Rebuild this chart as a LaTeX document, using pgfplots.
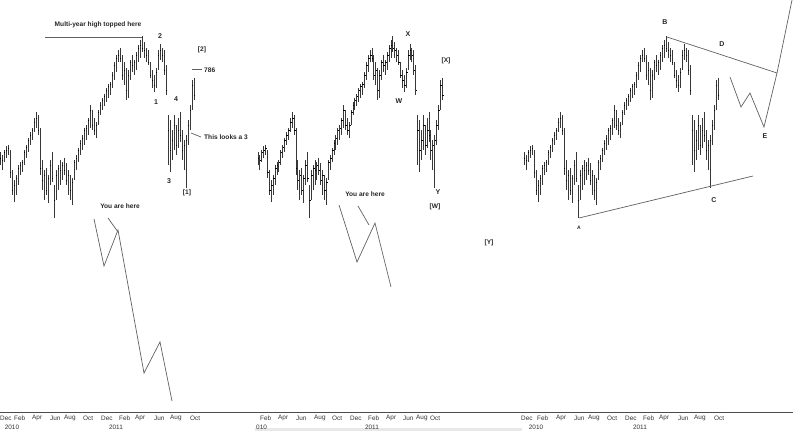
\documentclass[border=0pt]{standalone}
\usepackage{pgfplots}
\pgfplotsset{compat=1.18}
\usepackage{pgfplotstable}
\usepackage{fontspec}
\setmainfont{Liberation Sans}

\pgfplotstableread{
x h l c
0 152 165 158
2 155 170 160
4 150 162 152
6 146 158 150
8 145 155 148
10 150 178 172
12 170 195 190
14 180 202 185
16 175 195 178
18 165 185 168
20 162 175 165
22 160 172 162
24 150 165 152
26 145 158 147
28 138 152 140
30 132 145 135
32 128 140 130
34 118 132 122
36 112 128 118
38 115 135 130
40 128 175 168
42 160 190 180
44 170 200 175
46 168 195 190
48 175 203 178
50 160 185 165
52 152 182 178
54 185 218 200
56 170 200 175
58 165 190 168
60 160 185 170
62 162 180 165
64 158 175 170
66 163 185 180
68 170 195 175
70 175 200 190
72 178 205 182
74 160 180 162
76 155 170 158
78 148 162 150
80 140 155 143
82 135 150 138
84 128 145 130
86 125 140 128
88 118 135 120
90 105 128 110
92 110 130 125
94 118 135 130
96 122 138 125
98 110 125 112
100 102 115 105
102 98 110 100
104 94 106 96
106 88 102 90
108 84 98 86
110 82 95 84
112 72 88 75
114 62 80 65
116 55 72 58
118 50 62 55
120 48 62 58
122 55 80 75
124 62 85 70
126 68 100 90
128 70 98 75
130 60 80 62
132 55 72 65
134 60 75 62
136 52 70 55
138 45 62 48
140 40 58 45
142 36 52 48
144 42 58 50
146 48 62 55
148 50 65 62
150 62 78 75
152 70 88 80
154 75 92 85
156 68 88 72
158 50 70 55
160 44 60 50
162 48 62 55
164 50 75 70
166 65 95 90
168 115 165 130
170 120 172 150
172 130 160 140
174 115 150 125
176 125 155 145
178 118 148 130
180 112 142 135
182 130 160 150
184 140 170 145
186 135 188 140
188 120 145 125
190 105 130 110
192 80 110 85
194 78 100 95
}\bars

\tikzset{
  ann/.style={font=\fontsize{6.6}{7}\selectfont\bfseries, text=black!85, inner sep=0pt},
  lab/.style={font=\fontsize{7}{8}\selectfont\bfseries, text=black!85, inner sep=0pt},
  tl/.style={font=\fontsize{6.4}{7}\selectfont, text=black!80, inner sep=0pt, anchor=west},
  yl/.style={font=\fontsize{6.4}{7}\selectfont, text=black!80, inner sep=0pt},
}
\pgfplotsset{
  ohlc/.style={only marks, mark size=0pt, forget plot,
    error bars/.cd, y dir=both, y explicit, error mark=none,
    error bar style={line width=1.0pt, draw=black!78}},
  ticks/.style={only marks, mark=-, mark size=0.8pt, black, forget plot,
    mark options={line width=0.6pt, draw=black}},
  sk/.style={gray!75!black, line width=0.7pt, mark=none, forget plot},
}

\begin{document}
\begin{tikzpicture}
\begin{axis}[x=1pt, y=1pt, xmin=0, xmax=800, ymin=0, ymax=434,
  y dir=reverse, hide axis, clip=false]

% ---- panel 1
\addplot[ohlc] table[x=x, y expr=(\thisrow{h}+\thisrow{l})/2,
  y error plus expr=(\thisrow{l}-\thisrow{h})/2,
  y error minus expr=(\thisrow{l}-\thisrow{h})/2] {\bars};
\addplot[ticks] table[x expr=\thisrow{x}+0.6, y=c] {\bars};

% ---- panel 2
\addplot[ohlc] table[x expr=258+0.95*\thisrow{x}, y expr=(\thisrow{h}+\thisrow{l})/2,
  y error plus expr=(\thisrow{l}-\thisrow{h})/2,
  y error minus expr=(\thisrow{l}-\thisrow{h})/2] {\bars};
\addplot[ticks] table[x expr=258+0.95*\thisrow{x}+0.6, y=c] {\bars};

% ---- panel 3
\addplot[ohlc] table[x expr=\thisrow{x}+524, y expr=(\thisrow{h}+\thisrow{l})/2,
  y error plus expr=(\thisrow{l}-\thisrow{h})/2,
  y error minus expr=(\thisrow{l}-\thisrow{h})/2] {\bars};
\addplot[ticks] table[x expr=\thisrow{x}+524.6, y=c] {\bars};

% ---- sketches panel 1
\addplot[sk] coordinates {(45,37) (142,37)};
\addplot[sk] coordinates {(192,69) (202,69)};
\addplot[sk] coordinates {(191,133) (201,137)};
\addplot[sk] coordinates {(108,218) (118,232)};
\addplot[sk] coordinates {(94,219) (104,266) (118,230) (144,373) (160,342) (172,401)};

% ---- sketches panel 2
\addplot[sk] coordinates {(358,206) (369,225)};
\addplot[sk] coordinates {(339,205) (357,262) (375,223) (391,287)};

% ---- sketches panel 3
\addplot[sk] coordinates {(667,37) (777,73)};
\addplot[sk] coordinates {(579,218) (753,176)};
\addplot[sk] coordinates {(730,77) (741,107) (750,93) (764,127) (777,73) (792,0)};

% ---- bottom axis
\addplot[gray!60!black, line width=0.8pt, mark=none, forget plot] coordinates {(0,412) (793,412)};
\addplot[gray!18, line width=3pt, mark=none, forget plot] coordinates {(255,429.5) (522,429.5)};

% text panel 1
\node[ann] at (98,25) {Multi-year high topped here};
\node[lab] at (160,36) {2};
\node[ann] at (202,50) {[2]};
\node[ann, anchor=west] at (204,70) {786};
\node[lab] at (156,102) {1};
\node[lab] at (176,99) {4};
\node[ann, anchor=west] at (204,137) {This looks a 3};
\node[lab] at (169,181) {3};
\node[ann] at (187,193) {[1]};
\node[ann] at (120,206) {You are here};

% text panel 2
\node[lab] at (408,34) {X};
\node[lab] at (399,101) {W};
\node[ann] at (446,61) {[X]};
\node[lab] at (438,192) {Y};
\node[ann] at (435,207) {[W]};
\node[ann] at (365,194) {You are here};
\node[ann] at (489,243) {[Y]};

% text panel 3
\node[lab] at (665,22) {B};
\node[lab] at (722,44) {D};
\node[lab] at (765,136) {E};
\node[lab] at (714,200) {C};
\node[ann, font=\fontsize{5}{6}\selectfont\bfseries] at (579,228) {A};

% month labels panel 1
\node[tl] at (0,418) {Dec};
\node[tl] at (14,418) {Feb};
\node[tl] at (32,418) {Apr};
\node[tl] at (50,418) {Jun};
\node[tl] at (64,418) {Aug};
\node[tl] at (83,418) {Oct};
\node[tl] at (101,418) {Dec};
\node[tl] at (119,418) {Feb};
\node[tl] at (135,418) {Apr};
\node[tl] at (154,418) {Jun};
\node[tl] at (170,418) {Aug};
\node[tl] at (190,418) {Oct};
\node[yl] at (12,427) {2010};
\node[yl] at (116,427) {2011};

% month labels panel 2
\node[tl] at (260,418) {Feb};
\node[tl] at (278,418) {Apr};
\node[tl] at (296,418) {Jun};
\node[tl] at (314,418) {Aug};
\node[tl] at (332,418) {Oct};
\node[tl] at (350,418) {Dec};
\node[tl] at (368,418) {Feb};
\node[tl] at (386,418) {Apr};
\node[tl] at (403,418) {Jun};
\node[tl] at (416,418) {Aug};
\node[tl] at (430,418) {Oct};
\node[tl] at (256,427) {010};
\node[yl] at (372,427) {2011};

% month labels panel 3
\node[tl] at (521,418) {Dec};
\node[tl] at (537,418) {Feb};
\node[tl] at (556,418) {Apr};
\node[tl] at (574,418) {Jun};
\node[tl] at (588,418) {Aug};
\node[tl] at (607,418) {Oct};
\node[tl] at (625,418) {Dec};
\node[tl] at (643,418) {Feb};
\node[tl] at (659,418) {Apr};
\node[tl] at (678,418) {Jun};
\node[tl] at (694,418) {Aug};
\node[tl] at (714,418) {Oct};
\node[yl] at (536,427) {2010};
\node[yl] at (640,427) {2011};

\end{axis}
\pgfresetboundingbox
\path (current axis.south west) rectangle (current axis.north east);
\end{tikzpicture}
\end{document}
